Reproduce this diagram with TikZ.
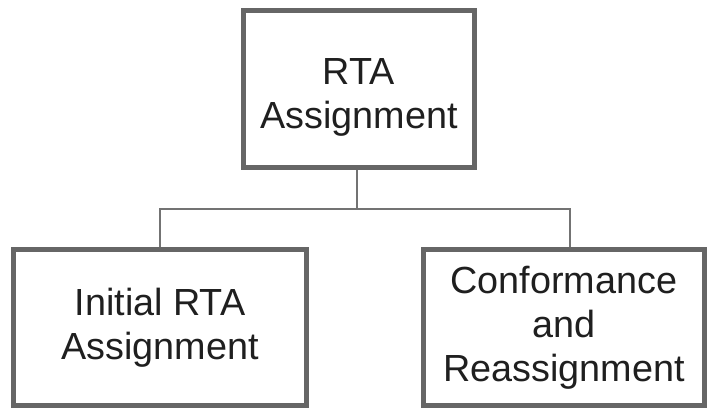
\documentclass[tikz,border=0pt]{standalone}
\usepackage{fontspec}
\setmainfont{Liberation Sans}
\usepackage{tikz}

\begin{document}
\begin{tikzpicture}[x=0.02cm,y=-0.02cm,
  box/.style={draw=black!60, line width=0.1cm, align=center, inner sep=0pt,
    font=\fontsize{21.5}{25}\selectfont, text=black!88},
  link/.style={draw=black!55, line width=0.04cm}]
\useasboundingbox (0,0) rectangle (708,409);
\node [box, minimum width=4.64cm, minimum height=3.16cm] (rta) at (359,89) {\rule{0pt}{0.85cm}RTA\\Assignment};
\node [box, minimum width=5.87cm, minimum height=3.14cm] (init) at (160,327.5) {Initial RTA\\Assignment};
\node [box, minimum width=5.61cm, minimum height=3.14cm] (conf) at (564,327.5) {Conformance\\and\\Reassignment};
\coordinate (bus) at (0,209);
\draw [link] ([xshift=-0.04cm]rta.south) -- ([xshift=-0.04cm]rta.south |- bus);
\draw [link] (init.north) -- (init.north |- bus) -- ([xshift=0.12cm]conf.north |- bus) -- ([xshift=0.12cm]conf.north);
\end{tikzpicture}
\end{document}
